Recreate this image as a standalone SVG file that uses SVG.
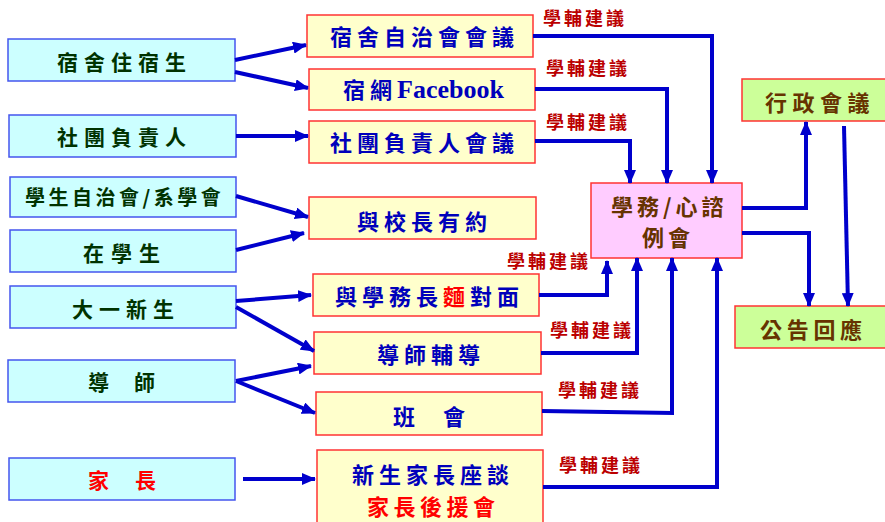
<svg xmlns="http://www.w3.org/2000/svg" width="885" height="522" viewBox="0 0 885 522">
<style>
text{font-family:"Noto Sans CJK TC","Noto Sans CJK SC",sans-serif;font-weight:bold}
.lb{fill:#CCFFFF;stroke:#4455EE;stroke-width:1.5}
.mb{fill:#FFFFCC;stroke:#FF3333;stroke-width:1.5}
.cb{fill:#FFCCFF;stroke:#FF3333;stroke-width:1.5}
.rb{fill:#CCFF99;stroke:#FF3333;stroke-width:1.5}
.lt{fill:#003300;font-size:21px;letter-spacing:6px}
.mt{fill:#0000BB;font-size:22px;letter-spacing:5px}
.ct{fill:#663300;font-size:22px;letter-spacing:4px}
.red{fill:#FF0000}
.note{fill:#BB0000;font-size:18px;letter-spacing:3px}
.c path{fill:none;stroke:#0000CC;stroke-width:4;marker-end:url(#ah)}
</style>
<defs>
<marker id="ah" markerUnits="userSpaceOnUse" markerWidth="14" markerHeight="12" refX="13" refY="6" orient="auto">
<path d="M0,0 L14,6 L0,12 z" fill="#0000CC"/>
</marker>
</defs>
<rect width="885" height="522" fill="#FFFFFF"/>

<g id="n-dorm-resident"><rect class="lb" x="8" y="39" width="227" height="42"/><text class="lt" x="57" y="70">宿舍住宿生</text></g>
<g id="n-club-leader"><rect class="lb" x="9" y="115" width="227" height="42"/><text class="lt" x="57" y="145">社團負責人</text></g>
<g id="n-student-council"><rect class="lb" x="10" y="177" width="226" height="40"/><text class="lt" style="font-size:20px;letter-spacing:3.5px" x="25" y="205">學生自治會/系學會</text></g>
<g id="n-students"><rect class="lb" x="10" y="230" width="226" height="42"/><text class="lt" style="letter-spacing:7px" x="83" y="261">在學生</text></g>
<g id="n-freshmen"><rect class="lb" x="10" y="286" width="226" height="42"/><text class="lt" x="72" y="317">大一新生</text></g>
<g id="n-tutor"><rect class="lb" x="8" y="360" width="227" height="42"/><text class="lt" x="88" y="390">導</text><text class="lt" x="134" y="390">師</text></g>
<g id="n-parents"><rect class="lb" x="9" y="458" width="226" height="42"/><text class="lt red" x="88" y="488">家</text><text class="lt red" x="135" y="488">長</text></g>

<g id="n-dorm-meeting"><rect class="mb" x="307" y="15" width="226" height="42"/><text class="mt" x="330" y="45">宿舍自治會會議</text></g>
<g id="n-dorm-fb"><rect class="mb" x="309" y="69" width="226" height="41"/><text class="mt" x="343" y="98">宿網<tspan style="font-family:'Liberation Serif',serif;font-size:26px;letter-spacing:0">Facebook</tspan></text></g>
<g id="n-club-meeting"><rect class="mb" x="309" y="121" width="226" height="42"/><text class="mt" x="330" y="151">社團負責人會議</text></g>
<g id="n-president"><rect class="mb" x="309" y="197" width="227" height="42"/><text class="mt" x="357" y="230">與校長有約</text></g>
<g id="n-dean"><rect class="mb" x="313" y="274" width="226" height="42"/><text class="mt" x="335" y="305">與學務長<tspan class="red">麵</tspan>對面</text></g>
<g id="n-tutoring"><rect class="mb" x="314" y="332" width="227" height="42"/><text class="mt" x="377" y="363">導師輔導</text></g>
<g id="n-class"><rect class="mb" x="316" y="392" width="226" height="43"/><text class="mt" x="393" y="425">班</text><text class="mt" x="443" y="425">會</text></g>
<g id="n-parent-meeting"><rect class="mb" x="317" y="450" width="226" height="80"/><text class="mt" x="352" y="483">新生家長座談</text><text class="mt red" style="letter-spacing:4.5px" x="367" y="515">家長後援會</text></g>

<g id="n-affairs"><rect class="cb" x="591" y="183" width="151" height="75"/><text class="ct" x="611" y="215">學務/心諮</text><text class="ct" x="642" y="246">例會</text></g>
<g id="n-admin"><rect class="rb" x="742" y="79" width="150" height="42"/><text class="ct" style="letter-spacing:5.5px" x="765" y="111">行政會議</text></g>
<g id="n-announce"><rect class="rb" x="735" y="306" width="157" height="42"/><text class="ct" style="letter-spacing:4.7px" x="760" y="338">公告回應</text></g>

<g id="connectors" class="c">
<path d="M235,60 L306,45"/>
<path d="M235,72 L308,88"/>
<path d="M236,136 L308,136"/>
<path d="M236,196 L308,217"/>
<path d="M236,250 L304,233"/>
<path d="M236,301 L311,295"/>
<path d="M236,307 L314,351"/>
<path d="M236,381 L311,366"/>
<path d="M236,381 L315,413"/>
<path d="M243,479 L315,479"/>
<path d="M533,36 H712 V183"/>
<path d="M535,89 H667 V183"/>
<path d="M535,141 H630 V183"/>
<path d="M539,295 H607 V261"/>
<path d="M541,353 H637 V258"/>
<path d="M542,411 L672,413 V258"/>
<path d="M543,487 H717 V258"/>
<path d="M742,208 H806 V122"/>
<path d="M742,233 H809 V306"/>
<path d="M844,126 L848,306"/>
</g>

<g id="labels">
<text class="note" x="543" y="25">學輔建議</text>
<text class="note" x="546" y="75">學輔建議</text>
<text class="note" x="546" y="129">學輔建議</text>
<text class="note" x="507" y="268">學輔建議</text>
<text class="note" x="550" y="337">學輔建議</text>
<text class="note" x="558" y="397">學輔建議</text>
<text class="note" x="559" y="472">學輔建議</text>
</g>
</svg>
